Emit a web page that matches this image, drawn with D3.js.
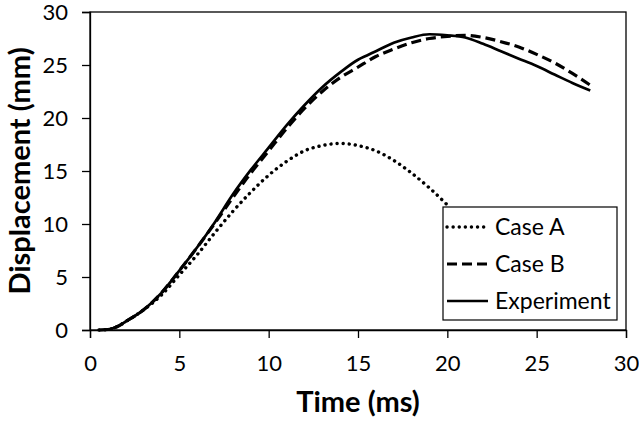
<!DOCTYPE html>
<html>
<head>
<meta charset="utf-8">
<script src="https://cdn.jsdelivr.net/npm/d3@7"></script>
<style>
  body { margin: 0; background: #fff; }
  text { font-family: Lato, "Open Sans", sans-serif; fill: #000; }
</style>
</head>
<body>
<div id="viz"></div>
<script>
const domID = "#viz"

// time in ms
const timeExp = [0.5, 1, 1.5, 2, 3, 4, 5, 6, 7, 8, 9, 10, 11, 12, 13, 14, 15, 15.5, 16, 17, 18, 19, 20, 21, 22, 23, 24, 25, 26, 27, 28]
const dispExp = [0, 0.05, 0.3, 0.8, 1.9, 3.5, 5.6, 7.8, 10.2, 12.8, 15.1, 17.2, 19.3, 21.2, 22.9, 24.3, 25.5, 25.9, 26.3, 27.1, 27.6, 27.9, 27.8, 27.6, 27.0, 26.3, 25.6, 24.9, 24.1, 23.3, 22.6]

const timeB = [0.5, 1, 1.5, 2, 3, 4, 5, 6, 7, 8, 9, 10, 11, 12, 13, 14, 15, 16, 17, 18, 19, 20, 21, 22, 23, 24, 25, 26, 27, 28]
const dispB = [0, 0.05, 0.3, 0.8, 1.9, 3.5, 5.6, 7.8, 10.1, 12.5, 14.8, 16.9, 19.0, 20.9, 22.5, 23.8, 24.8, 25.8, 26.5, 27.1, 27.5, 27.7, 27.8, 27.6, 27.2, 26.7, 26.0, 25.2, 24.2, 23.1]

const timeA = [0.5, 1, 1.5, 2, 3, 4, 5, 6, 7, 8, 9, 10, 11, 12, 13, 14, 15, 16, 17, 18, 19, 20]
const dispA = [0, 0.05, 0.3, 0.8, 1.9, 3.3, 5.2, 7.1, 9.2, 11.2, 13.0, 14.6, 15.9, 16.9, 17.4, 17.6, 17.4, 16.9, 16.0, 14.8, 13.4, 11.8]

const xTicks = [0, 5, 10, 15, 20, 25, 30]
const yTicks = [0, 5, 10, 15, 20, 25, 30]

const seriesNames = ["Case A", "Case B", "Experiment"]
const seriesDash = ["0.1 6", "10 5", null]
const seriesWidth = [3.4, 3.2, 2.7]

const width = 639, height = 422
const margin = { top: 12, right: 13, bottom: 92, left: 90 }
const innerW = width - margin.left - margin.right
const innerH = height - margin.top - margin.bottom

let svg = d3.select(domID).append("svg")
    .attr("width", width)
    .attr("height", height)

let canvas = svg.append("g")
    .attr("transform", `translate(${margin.left},${margin.top})`)

const x = d3.scaleLinear().domain([0, 30]).range([0, innerW])
const y = d3.scaleLinear().domain([0, 30]).range([innerH, 0])

// frame
canvas.append("rect")
    .attr("width", innerW).attr("height", innerH)
    .attr("fill", "none").attr("stroke", "#000").attr("stroke-width", 1.3)

const xAxis = canvas.append("g")
    .attr("transform", `translate(0,${innerH})`)
    .call(d3.axisBottom(x).tickValues(xTicks).tickSize(8).tickPadding(17))
const yAxis = canvas.append("g")
    .call(d3.axisLeft(y).tickValues(yTicks).tickSize(8).tickPadding(14))

;[xAxis, yAxis].forEach(a => {
    a.select(".domain").attr("stroke-width", 1.3)
    a.selectAll(".tick line").attr("stroke-width", 1.3)
    a.selectAll(".tick text").style("font-size", "22px").style("font-family", "Lato, 'Open Sans', sans-serif")
})

const line = d3.line().x(d => x(d[0])).y(d => y(d[1])).curve(d3.curveMonotoneX)

const series = [
    d3.zip(timeA, dispA),
    d3.zip(timeB, dispB),
    d3.zip(timeExp, dispExp)
]

series.forEach((s, i) => {
    canvas.append("path")
        .attr("d", line(s))
        .attr("fill", "none")
        .attr("stroke", "#000")
        .attr("stroke-width", seriesWidth[i])
        .attr("stroke-linecap", i === 0 ? "round" : "butt")
        .attr("stroke-dasharray", seriesDash[i])
})

// legend
const legend = canvas.append("g")
    .attr("transform", `translate(${443 - margin.left},${207 - margin.top})`)
legend.append("rect")
    .attr("width", 174).attr("height", 113)
    .attr("fill", "#fff").attr("stroke", "#000").attr("stroke-width", 1.2)

seriesNames.forEach((name, i) => {
    const ly = 20 + i * 37
    legend.append("line")
        .attr("x1", 4).attr("x2", 45).attr("y1", ly).attr("y2", ly)
        .attr("stroke", "#000")
        .attr("stroke-width", seriesWidth[i])
        .attr("stroke-linecap", i === 0 ? "round" : "butt")
        .attr("stroke-dasharray", seriesDash[i])
    legend.append("text")
        .attr("x", 52).attr("y", ly + 8)
        .style("font-size", "23px")
        .text(name)
})

// axis titles
svg.append("text")
    .attr("x", margin.left + innerW / 2).attr("y", 412)
    .attr("text-anchor", "middle")
    .style("font-size", "29px").style("font-weight", "bold")
    .text("Time (ms)")

svg.append("text")
    .attr("transform", `translate(30,${margin.top + innerH / 2}) rotate(-90)`)
    .attr("text-anchor", "middle")
    .style("font-size", "29px").style("font-weight", "bold")
    .text("Displacement (mm)")
</script>
</body>
</html>
